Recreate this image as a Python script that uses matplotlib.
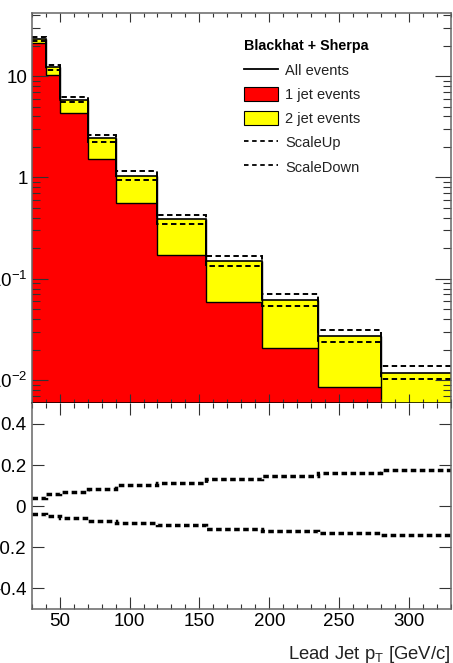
import numpy as np
import matplotlib
matplotlib.use("Agg")
import matplotlib.pyplot as plt
from matplotlib.ticker import FixedLocator, MultipleLocator, FuncFormatter, LogLocator, NullFormatter
from matplotlib.lines import Line2D
from matplotlib.patches import Patch

plt.rcParams['font.family'] = ['Liberation Sans', 'DejaVu Sans']
plt.rcParams['mathtext.fontset'] = 'custom'
plt.rcParams['mathtext.rm'] = 'Liberation Sans'
plt.rcParams['mathtext.it'] = 'Liberation Sans:italic'
plt.rcParams['axes.unicode_minus'] = False

# bins in lead jet pT [GeV/c]
edges = [30, 40, 50, 70, 90, 120, 155, 195, 235, 280, 330]
one_jet = [21.3, 10.2, 4.28, 1.51, 0.553, 0.170, 0.0583, 0.0205, 0.00845, 0.003]
all_events = [23.2, 12.2, 5.84, 2.43, 1.04, 0.385, 0.149, 0.0615, 0.0271, 0.0118]
# relative scale variations
ratio_up = [0.041, 0.057, 0.070, 0.083, 0.102, 0.112, 0.130, 0.146, 0.161, 0.174]
ratio_down = [-0.036, -0.049, -0.057, -0.071, -0.084, -0.093, -0.109, -0.119, -0.130, -0.140]

one_jet = np.array(one_jet)
all_events = np.array(all_events)
scale_up = all_events * (1 + np.array(ratio_up))
scale_down = all_events * (1 + np.array(ratio_down))

fig = plt.figure(figsize=(4.53, 6.63), dpi=100)
ax1 = fig.add_axes([0.070, 0.3917, 0.9256, 0.5882])
ax2 = fig.add_axes([0.070, 0.0814, 0.9256, 0.3103], sharex=ax1)

ymin = 0.0059
# stacked histograms
ax1.stairs(one_jet, edges, baseline=1e-5, fill=True, color='#ff0000')
ax1.stairs(all_events, edges, baseline=one_jet, fill=True, color='#ffff00')
ax1.stairs(one_jet, edges, baseline=None, color='black', lw=1.0)
ax1.stairs(all_events, edges, baseline=None, color='black', lw=1.2)
for i in range(len(edges) - 1):
    ax1.vlines(edges[i + 1], one_jet[i] if i < len(edges) - 2 else ymin, all_events[i], color='black', lw=1.0)
dash = (0, (2.8, 1.8))
ax1.stairs(scale_up, edges, baseline=None, color='black', lw=1.4, ls=dash)
ax1.stairs(scale_down, edges, baseline=None, color='black', lw=1.4, ls=dash)

ax1.set_yscale('log')
ax1.set_xlim(30, 330)
ax1.set_ylim(ymin, 41.6)

labels = {10: '10', 1: '1', 0.1: r'$\mathdefault{10^{-1}}$', 0.01: r'$\mathdefault{10^{-2}}$'}
ax1.yaxis.set_major_locator(FixedLocator([0.01, 0.1, 1, 10]))
ax1.yaxis.set_major_formatter(FuncFormatter(lambda v, p: labels.get(round(v, 4), '')))
ax1.yaxis.set_minor_locator(LogLocator(base=10, subs=np.arange(2, 10), numticks=20))
ax1.yaxis.set_minor_formatter(NullFormatter())

for ax in (ax1, ax2):
    ax.xaxis.set_major_locator(MultipleLocator(50))
    ax.xaxis.set_minor_locator(MultipleLocator(10))
    ax.tick_params(which='both', direction='in', top=True, right=True,
                   color='#333333', width=0.8, labelsize=13.5, pad=3)
    for s in ax.spines.values():
        s.set_color('#666666')
        s.set_linewidth(1.1)

ax1.tick_params(axis='x', which='major', length=6.5, labelbottom=False)
ax1.tick_params(axis='x', which='minor', length=3.2)
ax1.tick_params(axis='y', which='major', length=11.5)
ax1.tick_params(axis='y', which='minor', length=5.8)
ax1.spines['bottom'].set_color('black')

# legend
handles = [
    Line2D([], [], color='black', lw=1.3),
    Patch(facecolor='#ff0000', edgecolor='black', lw=0.8),
    Patch(facecolor='#ffff00', edgecolor='black', lw=0.8),
    Line2D([], [], color='black', lw=1.3, ls=(0, (2.5, 2.0))),
    Line2D([], [], color='black', lw=1.3, ls=(0, (2.5, 2.0))),
]
names = ['All events', '1 jet events', '2 jet events', 'ScaleUp', 'ScaleDown']
leg = ax1.legend(handles, names, loc='upper left', bbox_to_anchor=(0.507, 0.933),
                 frameon=False, fontsize=10.5, title='Blackhat + Sherpa',
                 title_fontproperties={'weight': 'bold', 'size': 10.3},
                 alignment='left', borderpad=0, borderaxespad=0,
                 handlelength=2.3, handleheight=1.15, handletextpad=0.5,
                 labelspacing=0.62)
for t in leg.get_texts():
    t.set_color('#222222')

# ratio panel
dots = (0, (1.6, 1.0))
ax2.stairs(ratio_up, edges, baseline=None, color='black', lw=2.5, ls=dots)
ax2.stairs(ratio_down, edges, baseline=None, color='black', lw=2.5, ls=dots)
ax2.set_ylim(-0.5, 0.5)
ax2.yaxis.set_major_locator(FixedLocator([-0.4, -0.2, 0, 0.2, 0.4]))
ax2.yaxis.set_major_formatter(FuncFormatter(lambda v, p: '%g' % round(v, 2)))
ax2.tick_params(axis='x', which='major', length=8.6)
ax2.tick_params(axis='x', which='minor', length=3.6)
ax2.tick_params(axis='y', which='major', length=8.6, pad=4)
ax2.spines['top'].set_visible(False)

ax2.set_xlabel(r'Lead Jet p$_{\mathrm{T}}$ [GeV/c]', fontsize=13.3, loc='right', labelpad=10, color='#222222')

fig.savefig('out.png', dpi=100)
